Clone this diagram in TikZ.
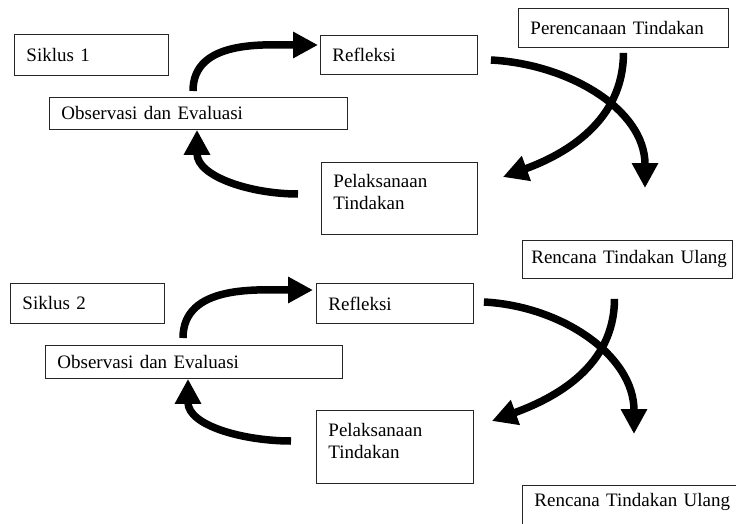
\documentclass[tikz,border=0pt]{standalone}
\usepackage{fontspec}
\setmainfont{Liberation Serif}
\usetikzlibrary{arrows.meta,calc}
\tikzset{
  box/.style={draw=black!85, line width=0.9pt, anchor=north west, align=left,
    inner xsep=12pt, inner ysep=0pt, font=\fontsize{19}{22}\selectfont},
  flow/.style={black, line width=7.5pt, -{Triangle[length=25pt,width=25pt]}}
}

\begin{document}
\begin{tikzpicture}[x=1pt,y=1pt]
\useasboundingbox (0,0) rectangle (736,-524);
% siklus 1
\node[box, text width=130pt, minimum height=41pt] (sikA) at (14,-34) {Siklus 1};
\node[box, text width=274pt, minimum height=32pt] (obsA) at (49,-97) {Observasi dan Evaluasi};
\node[box, text width=133pt, minimum height=39pt] (refA) at (320,-35) {Refleksi};
\node[box, text width=132pt, minimum height=72pt] (pelA) at (321,-162) {Pelaksanaan\\Tindakan\\[-9pt]\mbox{}};
\node[box, text width=186pt, minimum height=39pt] (perA) at (518,-8) {Perencanaan Tindakan};
\node[box, text width=199pt, inner xsep=5.5pt, align=right, minimum height=38pt] (renA) at (522,-240) {Rencana Tindakan Ulang};
\draw[flow] ($(obsA.north west)+(144,6)$) to[out=90,in=180] ($(refA.north west)+(-2,-10)$);
\draw[flow] ($(pelA.north west)+(-23,-32)$) to[out=180,in=-90] ($(obsA.south west)+(148,0)$);
\draw[flow] ($(refA.north east)+(13,-25)$) to[out=-3,in=90] ($(renA.north west)+(123,52)$);
\draw[flow] ($(perA.south)+(0,-5)$) to[out=-90,in=20] ($(pelA.north east)+(25,-15)$);
% siklus 2
\node[box, text width=130pt, minimum height=40pt] (sikB) at (10,-283) {Siklus 2};
\node[box, text width=273pt, minimum height=33pt] (obsB) at (45,-345) {Observasi dan Evaluasi};
\node[box, text width=133pt, minimum height=40pt] (refB) at (316,-283) {Refleksi};
\node[box, text width=133pt, minimum height=73pt] (pelB) at (316,-410) {Pelaksanaan\\Tindakan\\[-9pt]\mbox{}};
\node[box, text width=206pt, inner ysep=8pt, text depth=30pt] (renB) at (522,-485) {Rencana Tindakan Ulang};
\draw[flow] ($(obsB.north west)+(138,7)$) to[out=90,in=180] ($(refB.north west)+(-3,-7)$);
\draw[flow] ($(pelB.north west)+(-25,-31)$) to[out=180,in=-90] ($(obsB.south west)+(143,0)$);
\draw[flow] ($(refB.north east)+(10,-19)$) to[out=-3,in=90] ($(renB.north west)+(112,51)$);
\draw[flow] ($(renA.south)+(-13,-20)$) to[out=-90,in=20] ($(pelB.north east)+(18,-11)$);
\end{tikzpicture}
\end{document}
